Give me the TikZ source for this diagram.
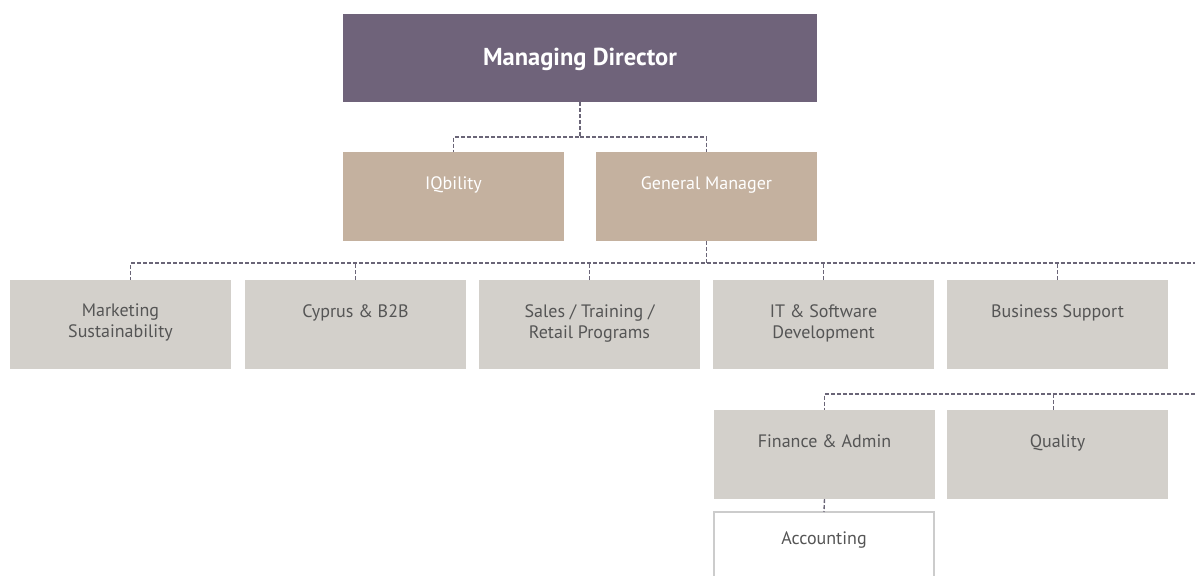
\documentclass[tikz,border=0pt]{standalone}
\usepackage{fontspec}
\setmainfont{PT Sans}
\definecolor{mdc}{HTML}{6F637A}
\definecolor{beige}{HTML}{C4B19F}
\definecolor{greyb}{HTML}{D3D0CB}
\definecolor{linec}{HTML}{6A6577}
\definecolor{txt}{HTML}{555555}
\definecolor{accb}{HTML}{CCCCCC}
\begin{document}
\begin{tikzpicture}[x=1pt,y=-1pt,
  box/.style={anchor=north west,inner sep=0pt,outer sep=0pt,minimum width=221pt,minimum height=89pt},
  mdbox/.style={box,fill=mdc,minimum width=474pt,minimum height=88pt},
  bbox/.style={box,fill=beige},
  gbox/.style={box,fill=greyb},
  abox/.style={anchor=north west,inner sep=0pt,outer sep=0pt,minimum width=220pt,minimum height=80pt,fill=white,draw=accb,line width=2pt},
  wlab/.style={anchor=north,inner sep=0pt,yshift=-24pt,text=white,font=\fontsize{18}{21}\selectfont,align=center},
  glab/.style={anchor=north,inner sep=0pt,yshift=-24pt,text=txt,font=\fontsize{18}{21}\selectfont,align=center},
  conn/.style={draw=linec,line width=1.4pt,dash pattern=on 4pt off 2pt}
]
\useasboundingbox (0,0) rectangle (1195,576);
\node[mdbox] (md) at (343,14) {};
\node[text=white,font=\fontsize{24.5}{28}\selectfont\bfseries] (mdt) at ([yshift=-1pt]md.center) {Managing Director};
\node[bbox,label={[wlab]north:IQbility}] (iq) at (343,152) {};
\node[bbox,label={[wlab]north:General Manager}] (gm) at (596,152) {};
\node[gbox,label={[glab]north:Marketing\\Sustainability}] (mk) at (10,280) {};
\node[gbox,label={[glab]north:Cyprus \& B2B}] (cy) at (245,280) {};
\node[gbox,label={[glab]north:Sales / Training /\\Retail Programs}] (sa) at (479,280) {};
\node[gbox,label={[glab]north:IT \& Software\\Development}] (it) at (713,280) {};
\node[gbox,label={[glab]north:Business Support}] (bs) at (947,280) {};
\node[gbox,label={[glab]north:Finance \& Admin}] (fa) at (714,410) {};
\node[gbox,label={[glab]north:Quality}] (qu) at (947,410) {};
\node[abox,label={[glab,yshift=5pt]north:Accounting}] (ac) at (714,512) {};
\coordinate (r1) at (1195,263);
\coordinate (r2) at (1195,394);
% connectors
\draw[conn] (md.south) -- ++(0,35) -| (iq.north);
\draw[conn] (md.south) ++(0,35) -| (gm.north);
\draw[conn] (gm.south) -- ++(0,22) -| ([xshift=10pt]mk.north);
\draw[conn] (gm.south) ++(0,22) -- (r1);
\draw[conn] (cy.north) -- ++(0,-17);
\draw[conn] (sa.north) -- ++(0,-17);
\draw[conn] (it.north) -- ++(0,-17);
\draw[conn] (bs.north) -- ++(0,-17);
\draw[conn] (r2) -| (fa.north);
\draw[conn] ([xshift=-4pt]qu.north) -- ++(0,-16);
\draw[conn] (fa.south) -- (ac.north);
\end{tikzpicture}
\end{document}
